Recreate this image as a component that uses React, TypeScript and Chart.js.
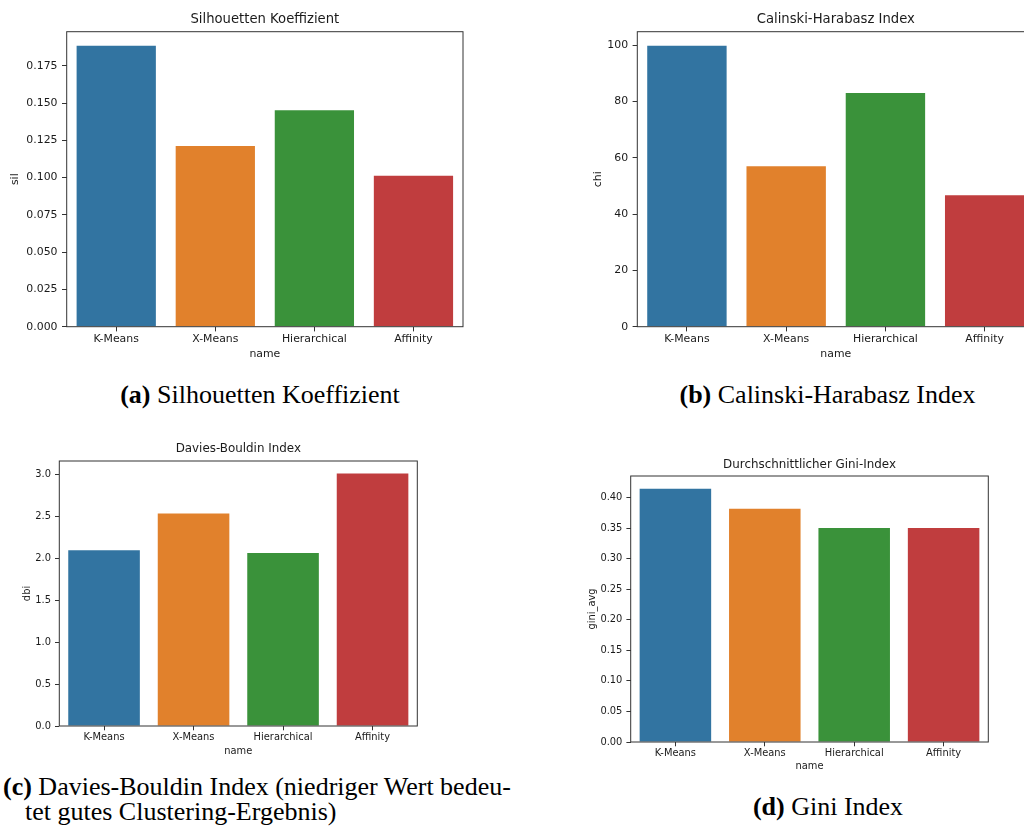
import React, { useEffect, useRef } from 'react';
import { Chart, registerables } from 'chart.js';

Chart.register(...registerables);

// ---------- data ----------
const categories = ['K-Means', 'X-Means', 'Hierarchical', 'Affinity'];
const silValues = [0.1884, 0.1211, 0.1452, 0.1013];
const chiValues = [99.8, 57.0, 83.0, 46.7];
const dbiValues = [2.096, 2.533, 2.061, 3.008];
const giniValues = [0.4147, 0.382, 0.3504, 0.3504];

const silTicks = [0, 0.025, 0.05, 0.075, 0.1, 0.125, 0.15, 0.175];
const chiTicks = [0, 20, 40, 60, 80, 100];
const dbiTicks = [0, 0.5, 1.0, 1.5, 2.0, 2.5, 3.0];
const giniTicks = [0, 0.05, 0.1, 0.15, 0.2, 0.25, 0.3, 0.35, 0.4];

const barColors = ['#3274a1', '#e1812c', '#3a923a', '#c03d3e'];

// ---------- styles / layout ----------
const SANS = "'DejaVu Sans', 'Liberation Sans', sans-serif";
const SERIF = "'Liberation Serif', 'Times New Roman', serif";
const TEXT = '#1a1a1a';
const FRAME = '#333333';

const framePlugin = {
  id: 'frame',
  afterDatasetsDraw(chart: any) {
    const { ctx, chartArea } = chart;
    ctx.save();
    ctx.strokeStyle = FRAME;
    ctx.lineWidth = 1;
    ctx.strokeRect(chartArea.left, chartArea.top, chartArea.right - chartArea.left, chartArea.bottom - chartArea.top);
    ctx.restore();
  },
};

interface PanelSpec {
  left: number; top: number; width: number; height: number;
  title: string; yLabel: string;
  values: number[]; ticks: number[]; decimals: number;
  tickFont: number; titleFont: number;
  pad: { left: number; right: number };
  titlePad: { top: number; bottom: number };
  yWidth: number; yTitlePad: number; yTickPad: number;
  xHeight: number; xTickPad: number; xTitlePad: number;
  tickLen: number;
}

const panels: PanelSpec[] = [
  {
    left: 0, top: 0, width: 512, height: 370,
    title: 'Silhouetten Koeffizient', yLabel: 'sil',
    values: silValues, ticks: silTicks, decimals: 3,
    tickFont: 10.9, titleFont: 13.2,
    pad: { left: 0, right: 49 },
    titlePad: { top: 11.4, bottom: 4.46 },
    yWidth: 66.7, yTitlePad: 8.46, yTickPad: 4.5,
    xHeight: 43.3, xTickPad: 1.4, xTitlePad: 9.16,
    tickLen: 4.7,
  },
  {
    left: 512, top: 0, width: 572, height: 370,
    title: 'Calinski-Harabasz Index', yLabel: 'chi',
    values: chiValues, ticks: chiTicks, decimals: 0,
    tickFont: 10.9, titleFont: 13.2,
    pad: { left: 70, right: 49.7 },
    titlePad: { top: 11.4, bottom: 4.46 },
    yWidth: 55.3, yTitlePad: 9.46, yTickPad: 4.5,
    xHeight: 43.3, xTickPad: 1.4, xTitlePad: 9.16,
    tickLen: 4.7,
  },
  {
    left: 0, top: 430, width: 460, height: 336,
    title: 'Davies-Bouldin Index', yLabel: 'dbi',
    values: dbiValues, ticks: dbiTicks, decimals: 1,
    tickFont: 9.9, titleFont: 11.9,
    pad: { left: 0, right: 42.7 },
    titlePad: { top: 12.16, bottom: 4.56 },
    yWidth: 59.3, yTitlePad: 21.36, yTickPad: 4,
    xHeight: 40, xTickPad: 1.06, xTitlePad: 9.06,
    tickLen: 4.3,
  },
  {
    left: 540, top: 445, width: 484, height: 336,
    title: 'Durchschnittlicher Gini-Index', yLabel: 'gini_avg',
    values: giniValues, ticks: giniTicks, decimals: 2,
    tickFont: 9.9, titleFont: 11.9,
    pad: { left: 40, right: 35.7 },
    titlePad: { top: 12.56, bottom: 4.16 },
    yWidth: 50.7, yTitlePad: 6.76, yTickPad: 4,
    xHeight: 39, xTickPad: 1.06, xTitlePad: 8.36,
    tickLen: 4.3,
  },
];

function Panel({ p }: { p: PanelSpec }) {
  const ref = useRef<HTMLCanvasElement | null>(null);
  useEffect(() => {
    if (!ref.current) return;
    const tickFont = { family: SANS, size: p.tickFont, lineHeight: 1.2 };
    const chart = new Chart(ref.current, {
      type: 'bar',
      data: {
        labels: categories,
        datasets: [{
          data: p.values,
          backgroundColor: barColors,
          borderWidth: 0,
          barPercentage: 0.8,
          categoryPercentage: 1.0,
        }],
      },
      options: {
        animation: false,
        responsive: false,
        maintainAspectRatio: false,
        devicePixelRatio: 1,
        layout: { padding: { left: p.pad.left, right: p.pad.right, top: 0, bottom: 0 } },
        plugins: {
          legend: { display: false },
          tooltip: { enabled: false },
          title: {
            display: true,
            text: p.title,
            fullSize: false,
            color: TEXT,
            font: { family: SANS, size: p.titleFont, weight: 'normal', lineHeight: 1.2 },
            padding: { top: p.titlePad.top, bottom: p.titlePad.bottom },
          },
        },
        scales: {
          x: {
            type: 'category',
            offset: true,
            grid: {
              display: true, drawOnChartArea: false, drawTicks: true,
              tickLength: p.tickLen, color: FRAME, lineWidth: 1, offset: false,
            },
            border: { display: false },
            ticks: { font: tickFont, color: TEXT, padding: p.xTickPad, autoSkip: false, maxRotation: 0 },
            title: {
              display: true, text: 'name', color: TEXT, font: tickFont,
              padding: { top: 0, bottom: p.xTitlePad },
            },
            afterFit: (s: any) => { s.height = p.xHeight; },
          },
          y: {
            type: 'linear',
            min: 0,
            max: Math.max(...p.values) * 1.05,
            grid: {
              display: true, drawOnChartArea: false, drawTicks: true,
              tickLength: p.tickLen, color: FRAME, lineWidth: 1,
            },
            border: { display: false },
            ticks: {
              font: tickFont, color: TEXT, padding: p.yTickPad, includeBounds: false,
              callback: (v: any) => Number(v).toFixed(p.decimals),
            },
            afterBuildTicks: (s: any) => { s.ticks = p.ticks.map((v) => ({ value: v })); },
            title: {
              display: true, text: p.yLabel, color: TEXT, font: tickFont,
              padding: { top: p.yTitlePad, bottom: 0 },
            },
            afterFit: (s: any) => { s.width = p.yWidth; },
          },
        },
      } as any,
      plugins: [framePlugin],
    });
    return () => chart.destroy();
  }, [p]);
  return (
    <canvas
      ref={ref}
      width={p.width}
      height={p.height}
      style={{ position: 'absolute', left: p.left, top: p.top, width: p.width, height: p.height }}
    />
  );
}

const capStyle: React.CSSProperties = {
  position: 'absolute',
  fontFamily: SERIF,
  fontSize: 26,
  lineHeight: '25px',
  color: '#000',
  whiteSpace: 'nowrap',
};

export default function App() {
  return (
    <div style={{ position: 'fixed', left: 0, top: 0, width: 1024, height: 838, overflow: 'hidden', background: '#fff' }}>
      {panels.map((p, i) => <Panel key={i} p={p} />)}
      <div style={{ ...capStyle, left: 0, width: 520, top: 381.7, textAlign: 'center' }}>
        <b>(a)</b> Silhouetten Koeffizient
      </div>
      <div style={{ ...capStyle, left: 640, width: 375, top: 381.7, textAlign: 'center' }}>
        <b>(b)</b> Calinski-Harabasz Index
      </div>
      <div style={{ ...capStyle, left: 3, top: 773.7 }}>
        <b>(c)</b> Davies-Bouldin Index (niedriger Wert bedeu-
      </div>
      <div style={{ ...capStyle, left: 25, top: 798.7 }}>
        tet gutes Clustering-Ergebnis)
      </div>
      <div style={{ ...capStyle, left: 640, width: 376, top: 793.7, textAlign: 'center' }}>
        <b>(d)</b> Gini Index
      </div>
    </div>
  );
}
